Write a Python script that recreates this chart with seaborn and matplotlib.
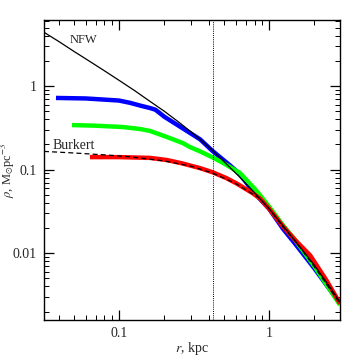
import numpy as np
import pandas as pd
import matplotlib
matplotlib.use('Agg')
import matplotlib.pyplot as plt
import seaborn as sns
from matplotlib.ticker import LogLocator, NullFormatter, FixedFormatter, FixedLocator

# values (r in kpc, rho in Msun/pc^3)
r_blue = [0.038, 0.06, 0.1, 0.118, 0.14, 0.161, 0.175, 0.188, 0.2, 0.267, 0.347, 0.42, 0.55, 0.64, 0.78, 1.0, 1.24, 1.5, 2.0, 2.97]
rho_blue = [0.72, 0.71, 0.67, 0.63, 0.58, 0.545, 0.52, 0.47, 0.43, 0.31, 0.23, 0.167, 0.112, 0.088, 0.055, 0.034, 0.0195, 0.0128, 0.0066, 0.0025]

r_green = [0.0486, 0.07, 0.106, 0.138, 0.161, 0.209, 0.267, 0.297, 0.347, 0.42, 0.49, 0.64, 0.83, 1.0, 1.24, 1.5, 2.0, 2.97]
rho_green = [0.341, 0.335, 0.323, 0.306, 0.29, 0.245, 0.207, 0.186, 0.165, 0.14, 0.121, 0.091, 0.055, 0.036, 0.0215, 0.0142, 0.0070, 0.0024]

r_red = [0.064, 0.1, 0.161, 0.209, 0.267, 0.297, 0.347, 0.42, 0.52, 0.61, 0.78, 0.87, 1.0, 1.24, 1.5, 1.88, 2.4, 2.97]
rho_red = [0.141, 0.141, 0.138, 0.13, 0.118, 0.112, 0.104, 0.093, 0.079, 0.068, 0.052, 0.045, 0.034, 0.0208, 0.0142, 0.0094, 0.0048, 0.0025]

r_nfw = [0.0316, 0.04, 0.05, 0.063, 0.08, 0.1, 0.126, 0.158, 0.2, 0.25, 0.316, 0.4, 0.5, 0.63, 0.79, 1.0, 1.26, 1.58, 2.0, 2.5, 2.97]
rho_nfw = [4.4, 3.38, 2.6, 2.0, 1.52, 1.17, 0.89, 0.67, 0.50, 0.37, 0.265, 0.183, 0.125, 0.083, 0.054, 0.034, 0.0205, 0.0123, 0.0072, 0.0041, 0.0026]

r_bur = [0.0316, 0.05, 0.08, 0.12, 0.2, 0.3, 0.42, 0.6, 0.87, 1.0, 1.24, 1.5, 2.0, 2.97]
rho_bur = [0.165, 0.158, 0.15, 0.142, 0.127, 0.11, 0.091, 0.068, 0.045, 0.034, 0.0205, 0.0138, 0.0069, 0.0025]

r_vline = 0.42


def main():
    sns.set_style('ticks')
    plt.rcParams['font.family'] = ['Liberation Serif', 'DejaVu Serif']
    plt.rcParams['mathtext.fontset'] = 'stix'
    fig = plt.figure(figsize=(3.59, 3.59), dpi=100)
    ax = fig.add_axes([44 / 359, 1 - 320 / 359, 296 / 359, 300 / 359])

    for r, rho, c in [(r_blue, rho_blue, '#0000ff'), (r_green, rho_green, '#00ff00'), (r_red, rho_red, '#ff0000')]:
        df = pd.DataFrame({'r': r, 'rho': rho})
        sns.lineplot(data=df, x='r', y='rho', color=c, lw=3.2, ax=ax, sort=False, solid_capstyle='butt')
    sns.lineplot(data=pd.DataFrame({'r': r_nfw, 'rho': rho_nfw}), x='r', y='rho', color='black', lw=0.9, ax=ax, sort=False)
    ax.plot(r_bur, rho_bur, color='black', lw=0.9, ls=(0, (4, 2.5)))
    ax.axvline(r_vline, color='black', lw=0.7, ls=(0, (1, 1.2)))

    ax.set_xscale('log')
    ax.set_yscale('log')
    ax.set_xlim(10 ** -1.5, 2.97)
    ax.set_ylim(10 ** -2.8, 10 ** 0.79)

    ax.xaxis.set_major_locator(FixedLocator([0.1, 1]))
    ax.xaxis.set_major_formatter(FixedFormatter(['0.1', '1']))
    ax.yaxis.set_major_locator(FixedLocator([0.01, 0.1, 1]))
    ax.yaxis.set_major_formatter(FixedFormatter(['0.01', '0.1', '1']))
    ax.xaxis.set_minor_locator(LogLocator(base=10, subs=np.arange(2, 10)))
    ax.yaxis.set_minor_locator(LogLocator(base=10, subs=np.arange(2, 10)))
    ax.xaxis.set_minor_formatter(NullFormatter())
    ax.yaxis.set_minor_formatter(NullFormatter())
    ax.tick_params(which='both', direction='in', top=True, right=True, labelsize=10, pad=5, color='black')
    ax.tick_params(which='major', length=7, width=0.9)
    ax.tick_params(which='minor', length=3.5, width=0.7)
    for s in ax.spines.values():
        s.set_linewidth(1.0)
        s.set_color('black')

    ax.set_xlabel(r'$r$, kpc', fontsize=10)
    ax.set_ylabel(r'$\rho$, M$_{\odot}$pc$^{-3}$', fontsize=9)
    ax.xaxis.set_label_coords(0.5, -0.068)
    ax.yaxis.set_label_coords(-0.092, 0.5)
    ax.text(0.047, 3.55, 'NFW', fontsize=9, ha='left', va='center')
    ax.text(0.036, 0.196, 'Burkert', fontsize=10, ha='left', va='center')

    fig.savefig('out.png', dpi=100)


if __name__ == '__main__':
    main()
